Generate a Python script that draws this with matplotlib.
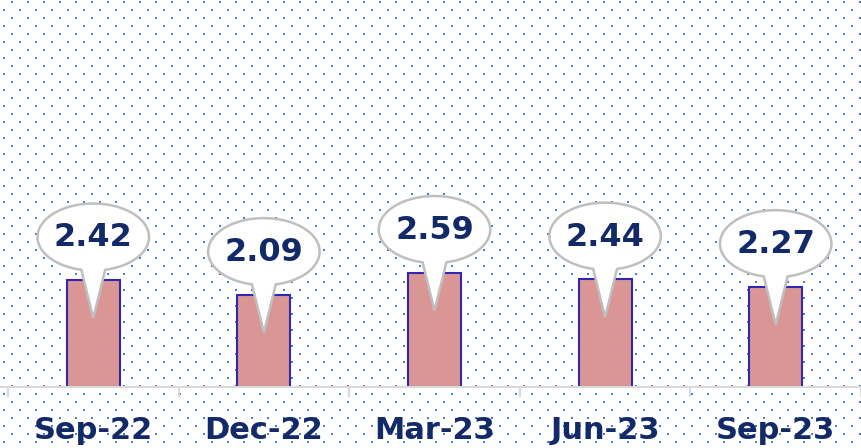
import numpy as np
import matplotlib
matplotlib.use("Agg")
import matplotlib.pyplot as plt
from matplotlib.path import Path
from matplotlib.patches import PathPatch

categories = ["Sep-22", "Dec-22", "Mar-23", "Jun-23", "Sep-23"]
values = [2.42, 2.09, 2.59, 2.44, 2.27]
labels = ["2.42", "2.09", "2.59", "2.44", "2.27"]

W, H = 861, 448
fig = plt.figure(figsize=(W / 100, H / 100), dpi=100)
fig.patch.set_facecolor("white")

# dotted background
bg = fig.add_axes([0, 0, 1, 1], zorder=0)
bg.set_xlim(0, W)
bg.set_ylim(H, 0)
bg.axis("off")
xs, ys = [], []
for i, y in enumerate(np.arange(2.5, H, 8)):
    x0 = 11.5 if i % 2 == 0 else 3.5
    for xx in np.arange(x0, W, 16):
        xs.append(xx)
        ys.append(y)
bg.scatter(xs, ys, s=4.0, marker="s", color="#4a7ebb", linewidths=0)

base_px = 387
px_per_unit = 44.2
ax = fig.add_axes([0, (H - base_px) / H, 1, base_px / H], zorder=1)
ax.patch.set_alpha(0)
ax.set_ylim(0, base_px / px_per_unit)
ax.set_xlim(-0.5 - 8 / 171.4, 4.5 - 4 / 171.4)
x = np.arange(len(categories))

ax.bar(x, values, width=0.31, color="#d99694", edgecolor="#3028b4", linewidth=1.5, zorder=2)

for s in ["top", "right", "left"]:
    ax.spines[s].set_visible(False)
ax.spines["bottom"].set_color("#d9d9d9")
ax.spines["bottom"].set_linewidth(1.5)
ax.set_yticks([])
ax.set_xticks(x)
ax.set_xticklabels(categories, fontsize=22, fontweight="heavy", color="#132a68", family="DejaVu Sans")
ax.tick_params(axis="x", which="major", length=0, pad=21)
ax.set_xticks(np.arange(-0.5, 5.0, 1.0), minor=True)
ax.tick_params(axis="x", which="minor", length=7, width=1.5, color="#d9d9d9")

# callouts
a = 56 / 171.4
b = 33.5 / px_per_unit
for xi, v, lab in zip(x, values, labels):
    cy = v + 43 / px_per_unit
    tip_y = v - 38 / px_per_unit
    hw = 12 / 171.4
    th_r = -np.pi / 2 + np.arcsin(hw / a)
    th_l = -np.pi / 2 - np.arcsin(hw / a)
    ths = np.linspace(th_r, th_l + 2 * np.pi, 200)
    verts = [(xi + a * np.cos(t), cy + b * np.sin(t)) for t in ths]
    verts.append((xi, tip_y))
    verts.append(verts[0])
    codes = [Path.MOVETO] + [Path.LINETO] * (len(verts) - 2) + [Path.CLOSEPOLY]
    p = PathPatch(Path(verts, codes), facecolor="white", edgecolor="#bfbfbf", linewidth=1.8, zorder=3)
    ax.add_patch(p)
    ax.text(xi, cy - 0.02, lab, ha="center", va="center", fontsize=23, fontweight="bold",
            color="#132a68", family="DejaVu Sans", zorder=4)

fig.savefig("out.png", dpi=100)
